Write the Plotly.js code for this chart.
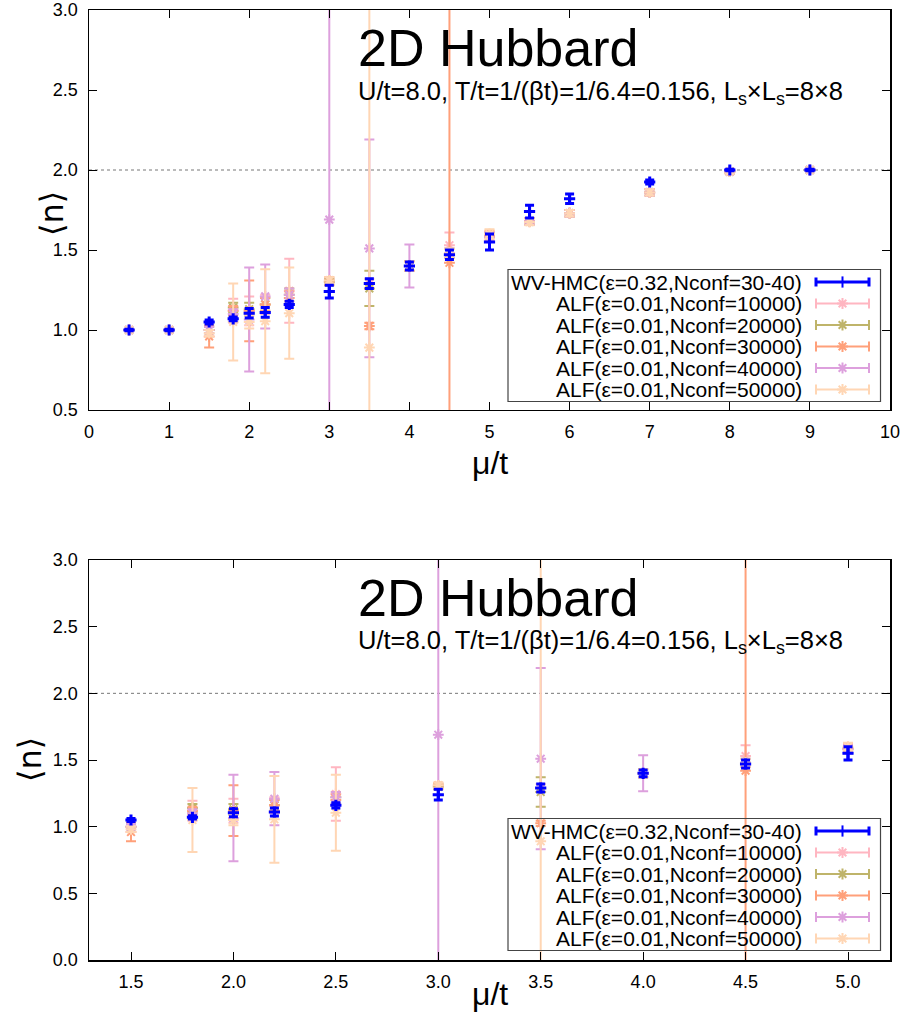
<!DOCTYPE html>
<html>
<head>
<meta charset="utf-8">
<script src="https://cdn.plot.ly/plotly-3.0.1.min.js"></script>
<style>html,body{margin:0;padding:0;background:#fff;}</style>
</head>
<body>
<div id="chart" style="width:906px;height:1018px;"></div>
<script>
// ---- data ----
const mu = [0.5, 1, 1.5, 1.8, 2, 2.2, 2.5, 3, 3.5, 4, 4.5, 5, 5.5, 6, 7, 8, 9];

const hmcN   = [1.00, 1.00, 1.05, 1.07, 1.105, 1.11, 1.16, 1.24, 1.29, 1.40, 1.47, 1.55, 1.74, 1.82, 1.925, 2.00, 2.00];
const hmcErr = [0.005, 0.005, 0.012, 0.012, 0.03, 0.03, 0.02, 0.04, 0.03, 0.025, 0.03, 0.05, 0.04, 0.03, 0.012, 0.005, 0.005];

const alf10kN   = [1.00, 1.00, 1.00, 1.12, 1.12, 1.16, 1.245, 1.30, 1.29, 1.40, 1.53, 1.58, 1.68, 1.73, 1.86, 1.99, 2.00];
const alf10kErr = [0.005, 0.005, 0.02, 0.075, 0.09, 0.06, 0.20, 0.02, 0.03, 0.03, 0.08, 0.03, 0.02, 0.02, 0.02, 0.01, 0.005];

const alf20kN   = [1.00, 1.00, 1.00, 1.14, 1.13, 1.16, 1.22, 1.30, 1.26, 1.40, 1.48, 1.58, 1.68, 1.73, 1.86, 1.99, 2.00];
const alf20kErr = [0.005, 0.005, 0.02, 0.03, 0.04, 0.04, 0.04, 0.02, 0.11, 0.03, 0.03, 0.03, 0.02, 0.02, 0.02, 0.01, 0.005];

const alf30kN   = [1.00, 1.00, 0.96, 1.12, 1.12, 1.16, 1.20, 1.31, 1.025, 1.40, 1.42, 1.59, 1.68, 1.73, 1.86, 1.99, 2.00];
const alf30kErr = [0.005, 0.005, 0.07, 0.03, 0.19, 0.04, 0.04, 0.02, 0.02, 0.03, 10.0, 0.03, 0.02, 0.02, 0.02, 0.01, 0.005];

const alf40kN   = [1.00, 1.00, 1.00, 1.10, 1.065, 1.21, 1.22, 1.69, 1.51, 1.40, 1.48, 1.58, 1.68, 1.73, 1.86, 1.99, 2.00];
const alf40kErr = [0.005, 0.005, 0.02, 0.03, 0.325, 0.20, 0.04, 10.0, 0.68, 0.135, 0.03, 0.03, 0.02, 0.02, 0.02, 0.01, 0.005];

const alf50kN   = [1.00, 1.00, 0.98, 1.05, 1.05, 1.055, 1.105, 1.31, 0.89, 1.40, 1.48, 1.60, 1.675, 1.73, 1.86, 1.99, 2.00];
const alf50kErr = [0.005, 0.005, 0.02, 0.24, 0.04, 0.325, 0.285, 0.02, 10.0, 0.03, 0.03, 0.03, 0.02, 0.02, 0.02, 0.01, 0.005];

const seriesNames = [
  "WV-HMC(ε=0.32,Nconf=30-40)",
  "ALF(ε=0.01,Nconf=10000)",
  "ALF(ε=0.01,Nconf=20000)",
  "ALF(ε=0.01,Nconf=30000)",
  "ALF(ε=0.01,Nconf=40000)",
  "ALF(ε=0.01,Nconf=50000)"
];
const halfFilling = 2.0;
const topXTicks = [0,1,2,3,4,5,6,7,8,9,10];
const botXTicks = [1.5,2.0,2.5,3.0,3.5,4.0,4.5,5.0];
const topYTicks = [0.5,1.0,1.5,2.0,2.5,3.0];
const botYTicks = [0.0,0.5,1.0,1.5,2.0,2.5,3.0];

// ---- styles ----
const colors = ["#0000ff", "#ffb6c1", "#bfb46a", "#ffa07a", "#dda0dd", "#ffd6b4"];
const ys   = [hmcN, alf10kN, alf20kN, alf30kN, alf40kN, alf50kN];
const errs = [hmcErr, alf10kErr, alf20kErr, alf30kErr, alf40kErr, alf50kErr];
const FONT = 'Liberation Sans, Arial, sans-serif';

// page pixel -> paper fraction (plot area spans x 89..890, y 10..960)
const PX = px => (px - 89) / 801;
const PY = py => (960 - py) / 950;

function mk(i, xa, ya) {
  const hmc = i === 0;
  return {
    type: 'scatter', mode: 'markers', x: mu, y: ys[i], xaxis: xa, yaxis: ya,
    name: seriesNames[i], showlegend: false, hoverinfo: 'skip',
    marker: hmc
      ? {symbol: 'cross-thin-open', size: 8, color: colors[i], line: {width: 3, color: colors[i]}}
      : {symbol: 'asterisk-open', size: 9, color: colors[i], line: {width: 2, color: colors[i]}},
    error_y: {type: 'data', array: errs[i], visible: true, color: colors[i],
              thickness: hmc ? 3 : 2, width: hmc ? 4.5 : 5}
  };
}

const traces = [];
const order = [1, 2, 3, 4, 5, 0];
order.forEach(i => traces.push(mk(i, 'x', 'y')));
order.forEach(i => traces.push(mk(i, 'x2', 'y2')));

// legend samples on a pixel overlay (x3/y3)
const legendRowsTop = [282, 303.5, 325, 346.5, 368, 389.5];
const offset = 549;
const annotations = [];
const shapes = [];
[0, offset].forEach(off => {
  for (let i = 0; i < 6; i++) {
    const hmc = i === 0;
    traces.push({
      type: 'scatter', mode: 'markers', x: [842.5], y: [legendRowsTop[i] + off],
      xaxis: 'x3', yaxis: 'y3', showlegend: false, hoverinfo: 'skip',
      marker: hmc
        ? {symbol: 'line-ns-open', size: 8, color: colors[i], line: {width: 2, color: colors[i]}}
        : {symbol: 'asterisk-open', size: 9, color: colors[i], line: {width: 2, color: colors[i]}},
      error_x: {type: 'constant', value: 26.5, visible: true, color: colors[i],
                thickness: hmc ? 3 : 2, width: hmc ? 4.5 : 5}
    });
    annotations.push({
      xref: 'paper', yref: 'paper', x: PX(804), y: PY(legendRowsTop[i] + off),
      xanchor: 'right', yanchor: 'middle', showarrow: false,
      text: seriesNames[i], font: {size: 21, color: '#000', family: FONT}
    });
  }
  shapes.push({type: 'rect', xref: 'x3', yref: 'y3', x0: 508, x1: 880.5, y0: 269.5 + off, y1: 401.5 + off,
               line: {color: '#444', width: 1.2}, fillcolor: 'rgba(0,0,0,0)', layer: 'above'});
  // titles
  annotations.push({xref: 'paper', yref: 'paper', x: PX(356), y: PY(48.5 + off), xanchor: 'left', yanchor: 'middle',
    showarrow: false, text: '2D Hubbard', font: {size: 52, color: '#000', family: FONT}});
  annotations.push({xref: 'paper', yref: 'paper', x: PX(356), y: PY(92.5 + off), xanchor: 'left', yanchor: 'middle',
    showarrow: false, text: 'U/t=8.0, T/t=1/(βt)=1/6.4=0.156, L<sub>s</sub>×L<sub>s</sub>=8×8',
    font: {size: 25.5, color: '#000', family: FONT}});
});
// axis labels
annotations.push({xref: 'paper', yref: 'paper', x: PX(490), y: PY(463), xanchor: 'center', yanchor: 'middle',
  showarrow: false, text: 'μ/t', font: {size: 32, color: '#000', family: FONT}});
annotations.push({xref: 'paper', yref: 'paper', x: PX(490), y: PY(994), xanchor: 'center', yanchor: 'middle',
  showarrow: false, text: 'μ/t', font: {size: 32, color: '#000', family: FONT}});
annotations.push({xref: 'paper', yref: 'paper', x: PX(52), y: PY(214), xanchor: 'center', yanchor: 'middle',
  showarrow: false, text: '⟨n⟩', textangle: -90, font: {size: 32, color: '#000', family: 'DejaVu Sans, sans-serif'}});
annotations.push({xref: 'paper', yref: 'paper', x: PX(30), y: PY(760), xanchor: 'center', yanchor: 'middle',
  showarrow: false, text: '⟨n⟩', textangle: -90, font: {size: 32, color: '#000', family: 'DejaVu Sans, sans-serif'}});

// half-filling dotted line
shapes.push({type: 'line', xref: 'x domain', yref: 'y', x0: 0, x1: 1, y0: halfFilling, y1: halfFilling,
             line: {color: '#777', width: 1, dash: 'dot'}, layer: 'below'});
shapes.push({type: 'line', xref: 'x2 domain', yref: 'y2', x0: 0, x1: 1, y0: halfFilling, y1: halfFilling,
             line: {color: '#777', width: 1, dash: 'dot'}, layer: 'below'});

const axBase = {
  showline: true, linecolor: '#000', linewidth: 1.5, mirror: 'allticks',
  ticks: 'inside', ticklen: 8, tickwidth: 1, tickcolor: '#000',
  showgrid: false, zeroline: false, fixedrange: true,
  tickfont: {size: 18, color: '#000', family: FONT}
};

const layout = {
  width: 906, height: 1018,
  margin: {l: 89, r: 16, t: 10, b: 58},
  paper_bgcolor: '#fff', plot_bgcolor: 'rgba(0,0,0,0)',
  showlegend: false,
  xaxis: Object.assign({}, axBase, {domain: [0, 1], range: [0, 10], anchor: 'y', tickvals: topXTicks,
    ticktext: topXTicks.map(String), ticklabelstandoff: 5}),
  yaxis: Object.assign({}, axBase, {domain: [0.57895, 1], range: [0.5, 3], anchor: 'x', tickvals: topYTicks,
    ticktext: topYTicks.map(v => v.toFixed(1)), ticklabelstandoff: 6}),
  xaxis2: Object.assign({}, axBase, {domain: [0, 1], range: [1.295, 5.205], anchor: 'y2', tickvals: botXTicks,
    ticktext: botXTicks.map(v => v.toFixed(1)), ticklabelstandoff: 5}),
  yaxis2: Object.assign({}, axBase, {domain: [0, 0.42105], range: [0, 3], anchor: 'x2', tickvals: botYTicks,
    ticktext: botYTicks.map(v => v.toFixed(1)), ticklabelstandoff: 6}),
  xaxis3: {domain: [0, 1], range: [89, 890], anchor: 'y3', visible: false, fixedrange: true},
  yaxis3: {domain: [0, 1], range: [960, 10], anchor: 'x3', visible: false, fixedrange: true},
  shapes: shapes,
  annotations: annotations
};

Plotly.newPlot('chart', traces, layout, {staticPlot: true, displayModeBar: false});
</script>
</body>
</html>
